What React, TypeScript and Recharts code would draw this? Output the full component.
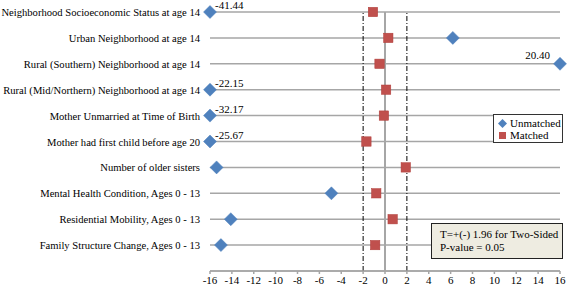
import {
  CartesianGrid,
  LabelList,
  ReferenceLine,
  Scatter,
  ScatterChart,
  XAxis,
  YAxis,
} from "recharts";

const categories = [
  "Neighborhood Socioeconomic Status at age 14",
  "Urban Neighborhood at age 14",
  "Rural (Southern) Neighborhood at age 14",
  "Rural (Mid/Northern) Neighborhood at age 14",
  "Mother Unmarried at Time of Birth",
  "Mother had first child before age 20",
  "Number of older sisters",
  "Mental Health Condition, Ages 0 - 13",
  "Residential Mobility, Ages 0 - 13",
  "Family Structure Change, Ages 0 - 13",
];

const unmatched = [-41.44, 6.2, 20.4, -22.15, -32.17, -25.67, -15.4, -4.9, -14.1, -15.0];
const matched = [-1.1, 0.3, -0.5, 0.1, -0.1, -1.7, 1.9, -0.8, 0.7, -0.9];

const xTicks = [-16, -14, -12, -10, -8, -6, -4, -2, 0, 2, 4, 6, 8, 10, 12, 14, 16];
const X_MIN = -16;
const X_MAX = 16;

const FONT = "'Liberation Serif', 'Times New Roman', serif";
const BLUE = "#4F81BD";
const RED = "#C0504D";

// row 1 sits at the top, row 10 at the bottom
const rowY = (i: number) => categories.length - i;

const clamp = (v: number) => Math.max(X_MIN, Math.min(X_MAX, v));

const unmatchedData = unmatched.map((v, i) => ({
  x: clamp(v),
  y: rowY(i),
  value: v,
  clipped: v < X_MIN || v > X_MAX,
}));

const matchedData = matched.map((v, i) => ({ x: v, y: rowY(i) }));

function Diamond(props: any) {
  const { cx, cy } = props;
  const r = 6.5;
  return (
    <path
      d={`M${cx},${cy - r}L${cx + r},${cy}L${cx},${cy + r}L${cx - r},${cy}Z`}
      fill={BLUE}
      stroke={BLUE}
      strokeWidth={0.5}
    />
  );
}

function Square(props: any) {
  const { cx, cy } = props;
  const h = 4.7;
  return (
    <rect
      x={cx - h}
      y={cy - h}
      width={h * 2}
      height={h * 2}
      fill={RED}
      stroke="#b03c39"
      strokeWidth={0.5}
    />
  );
}

function OverflowLabel(props: any) {
  const { x, y, width, height, index } = props;
  const d = unmatchedData[index];
  if (!d || !d.clipped) return null;
  const cx = x + width / 2;
  const cy = y + height / 2;
  const text = d.value.toFixed(2);
  if (d.value < 0) {
    return (
      <text x={cx + 5} y={cy - 3} fontSize={11} fontFamily={FONT} fill="#000">
        {text}
      </text>
    );
  }
  return (
    <text x={cx - 10} y={cy - 5} fontSize={11} fontFamily={FONT} fill="#000" textAnchor="end">
      {text}
    </text>
  );
}

function CategoryTick(props: any) {
  const { x, y, payload } = props;
  const idx = categories.length - payload.value;
  return (
    <text x={x} y={y} dy={4} textAnchor="end" fontSize={10.6} fontFamily={FONT} fill="#000">
      {categories[idx]}
    </text>
  );
}

export default function App() {
  return (
    <div style={{ position: "absolute", left: 0, top: 0, width: 567, height: 288, background: "#fff" }}>
      <ScatterChart width={567} height={288} margin={{ top: 12, right: 7, left: 0, bottom: 0 }}>
        <CartesianGrid vertical={false} stroke="#a6a6a6" strokeWidth={1.5} />
        <XAxis
          type="number"
          dataKey="x"
          domain={[X_MIN, X_MAX]}
          ticks={xTicks}
          interval={0}
          height={17}
          tickSize={3}
          tickMargin={2}
          stroke="#a6a6a6"
          strokeWidth={1.5}
          tick={{ fill: "#000", fontSize: 11, fontFamily: FONT }}
        />
        <YAxis
          type="number"
          dataKey="y"
          domain={[0, 10]}
          ticks={[1, 2, 3, 4, 5, 6, 7, 8, 9, 10]}
          interval={0}
          width={210}
          axisLine={false}
          tickLine={false}
          tickSize={0}
          tickMargin={10}
          tick={<CategoryTick />}
        />
        <ReferenceLine x={0} stroke="#a6a6a6" strokeWidth={2} />
        <ReferenceLine x={-2} stroke="#000" strokeWidth={1} strokeDasharray="5 2 1 2" />
        <ReferenceLine x={2} stroke="#000" strokeWidth={1} strokeDasharray="5 2 1 2" />
        <Scatter
          name="Unmatched"
          data={unmatchedData}
          shape={<Diamond />}
          isAnimationActive={false}
        >
          <LabelList dataKey="value" content={<OverflowLabel />} />
        </Scatter>
        <Scatter name="Matched" data={matchedData} shape={<Square />} isAnimationActive={false} />
      </ScatterChart>

      <div
        style={{
          position: "absolute",
          left: 493,
          top: 114,
          width: 70,
          height: 29,
          border: "1px solid #333",
          background: "#fff",
          fontFamily: FONT,
          fontSize: 11,
          lineHeight: "12px",
          boxSizing: "border-box",
          padding: "2px 0 0 4px",
          color: "#000",
        }}
      >
        <div style={{ display: "flex", alignItems: "center", whiteSpace: "nowrap" }}>
          <svg width={9} height={9} style={{ marginRight: 3, flexShrink: 0 }}>
            <path d="M4.5,0L9,4.5L4.5,9L0,4.5Z" fill={BLUE} />
          </svg>
          Unmatched
        </div>
        <div style={{ display: "flex", alignItems: "center", whiteSpace: "nowrap" }}>
          <svg width={9} height={9} style={{ marginRight: 3, flexShrink: 0 }}>
            <rect x={1} y={1} width={7} height={7} fill={RED} />
          </svg>
          Matched
        </div>
      </div>

      <div
        style={{
          position: "absolute",
          left: 431,
          top: 223,
          width: 132,
          height: 36,
          border: "1px solid #222",
          background: "#EEECE1",
          fontFamily: FONT,
          fontSize: 11,
          lineHeight: "13px",
          boxSizing: "border-box",
          padding: "4px 0 0 8px",
          color: "#000",
          whiteSpace: "nowrap",
        }}
      >
        <div>T=+(-) 1.96 for Two-Sided</div>
        <div>P-value = 0.05</div>
      </div>
    </div>
  );
}
